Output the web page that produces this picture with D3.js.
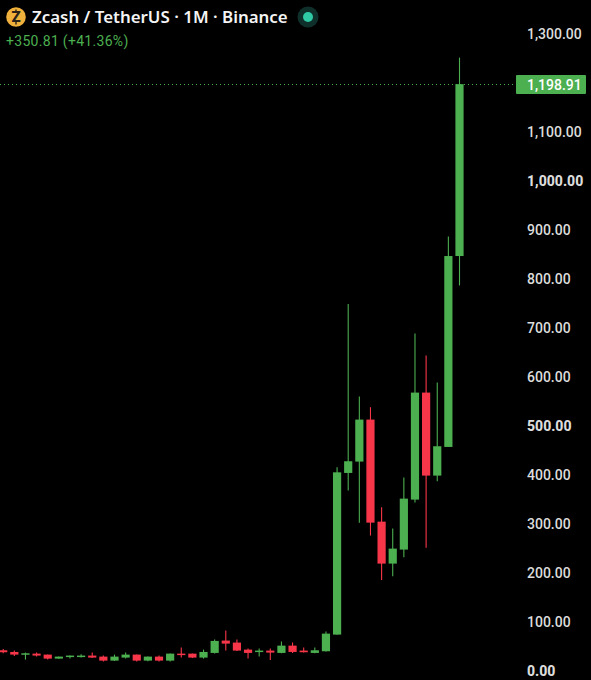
<!DOCTYPE html>
<html><head><meta charset="utf-8">
<script src="https://cdn.jsdelivr.net/npm/d3@7/dist/d3.min.js"></script>
<style>html,body{margin:0;background:#000;overflow:hidden}svg{display:block}</style>
</head><body><svg id="c" width="591" height="680"></svg>
<script>
const opens =[43.5,40.1,34.7,36.7,34.7,26.5,30.6,30.6,32.7,30.6,22.4,28.6,34.7,22.4,30.6,22.4,36.7,36.7,28.6,38.1,63.3,59.2,44.9,40.1,42.9,38.1,53,42.9,38.1,41.5,75.5,405.4,428.6,514.3,306,220.4,249,351,569.4,400,458.5,848.1];
const highs =[46.3,42.9,38.8,38.8,34.7,31,33,35.4,38.8,32.7,34.7,38.8,35,31,32.7,37,49,37,44.9,65.3,83.7,65.3,46.9,46.9,46.9,61.2,59.2,49,49,81.6,417,750.3,561.2,539.5,335.4,291.8,395.9,689.8,644.9,589.8,888,1253];
const lows  =[37.4,32,24.5,30.6,24.5,26,26.5,28.6,28,20.4,22,26.5,20.4,21,20.4,20.4,28.6,28,26.5,37,42.9,42,26.5,30.6,23.8,37.5,38,39,37.5,41,75,369.4,304,277.6,187,194.6,233.3,344.9,253,388.4,458.5,788];
const closes=[39.5,34.7,37.4,32.7,26.5,30.6,32.7,32.7,28.6,22.4,30.6,34.7,22.4,30.6,22.4,36.7,35.4,28.6,40.1,62.6,57.1,42.9,38.1,42.9,38.8,53,40.1,39.5,43.5,77.5,406.7,429.3,514.3,304,220.4,251,353,569.4,400,459.9,848.1,1198.91];
const ticks=[0,100,200,300,400,500,600,700,800,900,1000,1100,1300];
const boldTicks=[0,500,1000];
const lastPrice=1198.91;
const titleText="Zcash / TetherUS · 1M · Binance";
const changeText="+350.81 (+41.36%)";

const GREEN="#4caf50",RED="#f7364a";
const svg=d3.select("#c");
const idx=d3.range(opens.length);
const x=d3.scaleLinear().domain([0,opens.length-1]).range([3.2,459.5]);
const y=d3.scaleLinear().domain([0,1300]).range([671.6,34.6]);
const col=i=>closes[i]>=opens[i]?GREEN:RED;
const FONT="Roboto, 'Noto Sans', sans-serif";

svg.append("rect").attr("width",591).attr("height",680).attr("fill","#000");

svg.append("line").attr("x1",0).attr("x2",516).attr("y1",84.5).attr("y2",84.5)
  .attr("stroke",GREEN).attr("stroke-width",1).attr("stroke-dasharray","1 3");

svg.append("g").selectAll("line").data(idx).join("line")
  .attr("x1",i=>x(i)).attr("x2",i=>x(i)).attr("y1",i=>y(highs[i])).attr("y2",i=>y(lows[i]))
  .attr("stroke",col).attr("stroke-width",1.1);
svg.append("g").selectAll("rect").data(idx).join("rect")
  .attr("x",i=>x(i)-4.1).attr("width",8.2)
  .attr("y",i=>y(Math.max(opens[i],closes[i])))
  .attr("height",i=>Math.max(1.5,Math.abs(y(opens[i])-y(closes[i]))))
  .attr("fill",col);

const axis=d3.axisRight(y).tickValues(ticks).tickSize(0).tickPadding(0).tickFormat(d3.format(",.2f"));
const ag=svg.append("g").attr("transform","translate(527,-0.6)").call(axis);
ag.select(".domain").remove();
ag.selectAll("text").attr("fill","#dcdcdc").attr("font-family",FONT).attr("font-size",14)
  .attr("font-weight",d=>boldTicks.includes(d)?800:500);

svg.append("rect").attr("x",516).attr("y",75).attr("width",70).attr("height",19).attr("rx",1).attr("fill",GREEN);
svg.append("text").attr("x",527).attr("y",89.5).attr("fill","#fff").attr("font-family",FONT).attr("font-size",14).attr("font-weight",500)
  .text(d3.format(",.2f")(lastPrice));

svg.append("circle").attr("cx",16).attr("cy",17).attr("r",9.8).attr("fill","#f0b03c");
svg.append("text").attr("x",16).attr("y",22.3).attr("text-anchor","middle").attr("fill","#2a2118").attr("font-family",FONT).attr("font-size",15).attr("font-weight",900).text("Z");
svg.append("line").attr("x1",16).attr("x2",16).attr("y1",9.5).attr("y2",24.5).attr("stroke","#2a2118").attr("stroke-width",1.4).attr("stroke-dasharray","2.5 10 2.5");
svg.append("text").attr("x",32).attr("y",23).attr("fill","#f4f4f4").attr("font-family","'Noto Sans', sans-serif").attr("font-size",16.9).attr("font-weight",600).text(titleText);
svg.append("circle").attr("cx",308).attr("cy",17).attr("r",10.5).attr("fill","#0f2f2b");
svg.append("circle").attr("cx",308).attr("cy",17).attr("r",5).attr("fill","#30c9a6");
svg.append("text").attr("x",6).attr("y",46).attr("fill",GREEN).attr("font-family",FONT).attr("font-size",14).attr("letter-spacing",0.3).text(changeText);
</script></body></html>
